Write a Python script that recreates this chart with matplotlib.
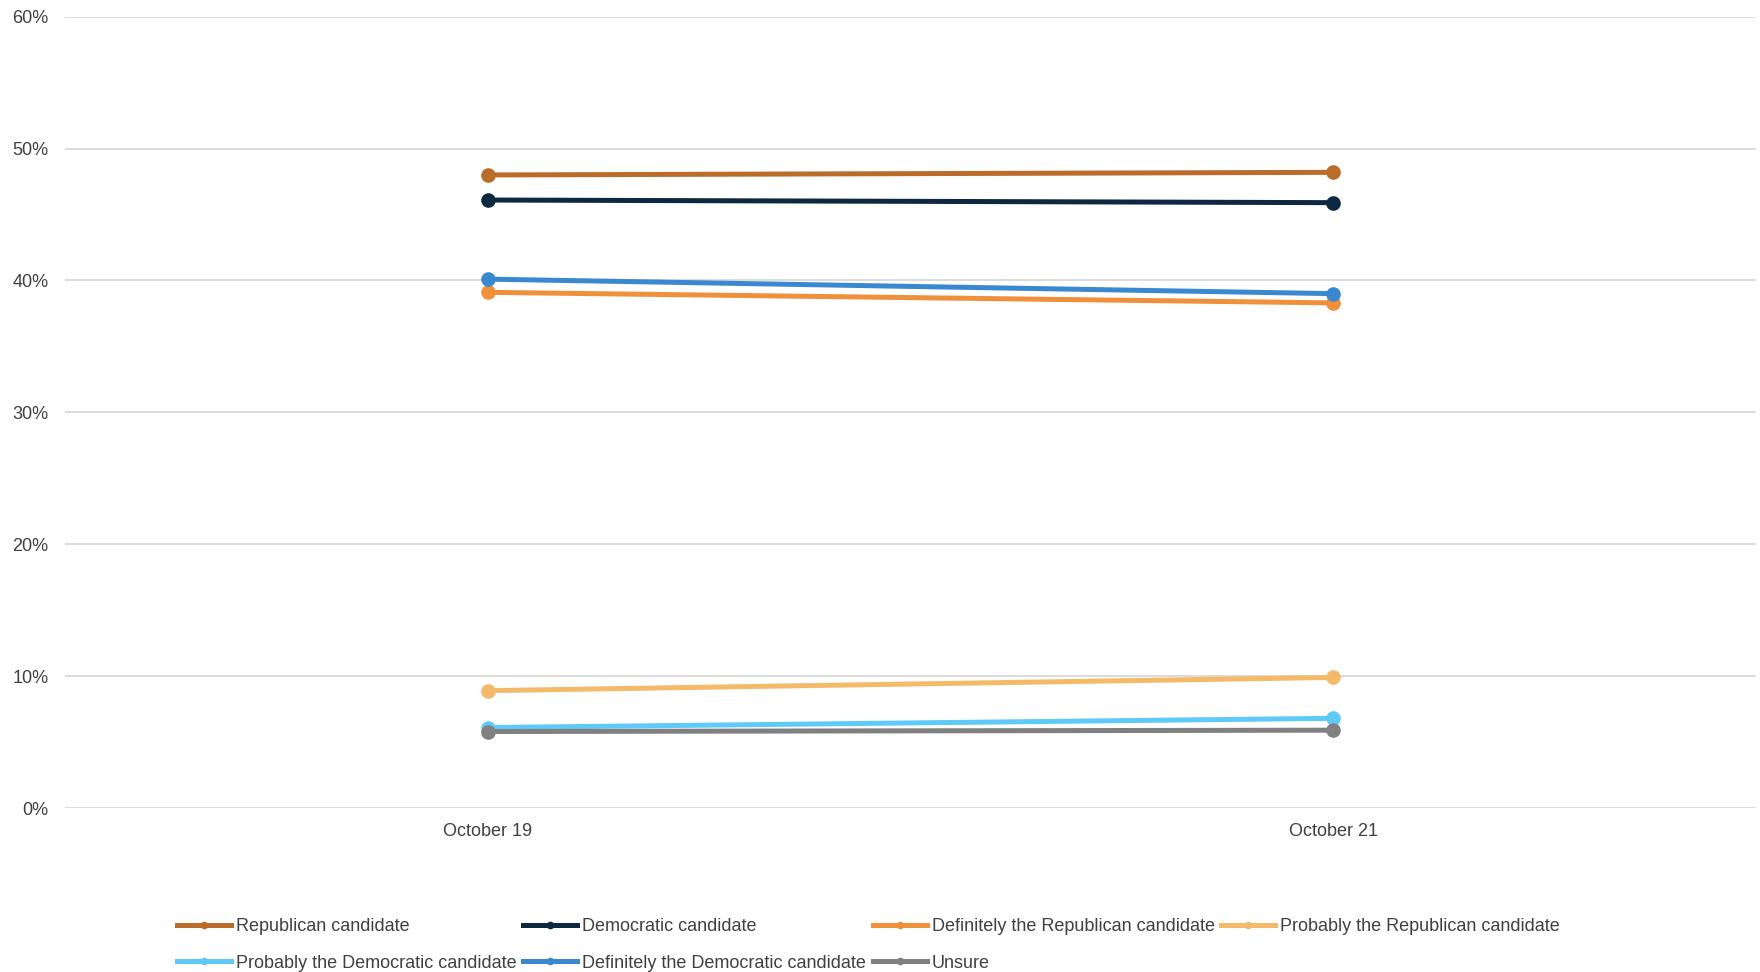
import matplotlib
matplotlib.use("Agg")
import matplotlib.pyplot as plt
from matplotlib.lines import Line2D

plt.rcParams['font.family'] = ['Liberation Sans', 'DejaVu Sans']

categories = ["October 19", "October 21"]
series_names = [
    "Republican candidate",
    "Democratic candidate",
    "Definitely the Republican candidate",
    "Probably the Republican candidate",
    "Probably the Democratic candidate",
    "Definitely the Democratic candidate",
    "Unsure",
]
republican = [48.0, 48.2]
democratic = [46.1, 45.9]
def_republican = [39.1, 38.3]
prob_republican = [8.9, 9.9]
prob_democratic = [6.1, 6.8]
def_democratic = [40.1, 39.0]
unsure = [5.8, 5.9]
series_values = [republican, democratic, def_republican, prob_republican,
                 prob_democratic, def_democratic, unsure]
colors = ["#BC6C2A", "#0E2841", "#F0903A", "#F5B96A", "#5FCAF7", "#3A89D0", "#808080"]
yticks = [0, 10, 20, 30, 40, 50, 60]

fig = plt.figure(figsize=(17.6, 9.72), dpi=100)
ax = fig.add_axes([65/1760, 1-808/972, (1756-65)/1760, (808-16.7)/972])

x = list(range(len(categories)))
for name, vals, c in zip(series_names, series_values, colors):
    ax.plot(x, vals, color=c, lw=3.6, marker='o', markersize=9.5,
            markeredgecolor=c, solid_capstyle='round', zorder=3)

ax.set_xlim(-0.5, len(categories) - 0.5)
ax.set_ylim(0, 60)
ax.set_yticks(yticks)
ax.set_yticklabels([f"{v}%" for v in yticks])
ax.set_xticks(x)
ax.set_xticklabels(categories)
ax.grid(axis='y', color='#D9D9D9', lw=1.3, zorder=0)
ax.grid(axis='x', visible=False)
for s in ax.spines.values():
    s.set_visible(False)
ax.tick_params(axis='both', length=0, labelsize=13, colors='#404040')
ax.tick_params(axis='y', pad=12)
ax.tick_params(axis='x', pad=10.8)
ax.set_axisbelow(True)

handles = [Line2D([0], [0], color=c, lw=3.6, marker='o', markersize=4.5,
                  markeredgecolor=c) for c in colors]
# matplotlib fills legend columns first; reorder so rows read like the original
order = [0, 4, 1, 5, 2, 6, 3]
fig.legend([handles[i] for i in order], [series_names[i] for i in order],
           loc='upper left',
           bbox_to_anchor=(177/1760, 1-918/972), ncol=4, frameon=False,
           fontsize=13, handlelength=3.0, handletextpad=0.28,
           columnspacing=0.35, labelspacing=1.08, borderpad=0,
           borderaxespad=0, labelcolor='#404040')

fig.savefig("out.png", dpi=100)
